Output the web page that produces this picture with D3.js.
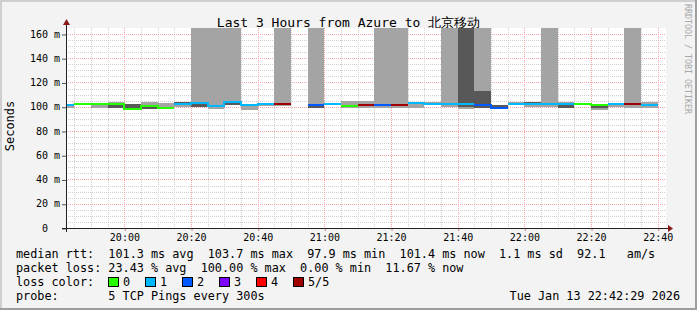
<!DOCTYPE html>
<html>
<head>
<meta charset="utf-8">
<script src="https://cdn.jsdelivr.net/npm/d3@7"></script>
<style>
body { margin: 0; background: #f3f3f3; }
text { font-family: "DejaVu Sans Mono", monospace; white-space: pre; }
</style>
</head>
<body>
<script>
// 5 minute bins (start time of each step)
const binStarts = ["19:40","19:45","19:50","19:55","20:00","20:05","20:10","20:15","20:20","20:25","20:30","20:35",
                   "20:40","20:45","20:50","20:55","21:00","21:05","21:10","21:15","21:20","21:25","21:30","21:35",
                   "21:40","21:45","21:50","21:55","22:00","22:05","22:10","22:15","22:20","22:25","22:30","22:35"];
// median rtt in ms (null = no data)
const median = [101.7,102.5,102.0,102.0,97.9,101.0,99.2,102.0,103.1,101.0,103.7,101.4,
                102.3,102.4,null,101.6,102.3,100.8,101.2,101.6,101.6,102.7,102.4,102.5,
                102.3,101.6,99.2,102.5,101.9,102.5,102.0,102.5,101.8,102.2,102.5,101.4];
// lost pings out of 5
const loss = [1,0,0,0,0,0,0,1,1,1,1,1,
              1,5,null,2,1,0,5,2,5,1,1,1,
              1,2,2,1,1,1,1,0,0,1,5,1];
// smoke: outer band (ping1..ping5), inner band (ping2..ping4); 999 = off the chart
const smokeLo = [99.0,102.0,98.7,99.2,97.6,98.1,98.8,100.0,100.0,98.3,101.4,97.6,
                 100.3,100.9,null,98.7,102.0,98.8,98.8,98.7,98.7,98.7,102.0,100.0,
                 98.4,98.7,98.7,102.0,99.8,99.6,98.7,101.4,97.3,99.5,98.7,98.7];
const smokeHi = [101.9,103.4,102.3,104.2,102.2,103.9,103.1,103.9,999,999,999,101.8,
                 102.8,999,null,999,102.6,104.7,104.7,999,999,103.9,103.9,999,
                 999,999,101.4,103.9,104.2,999,104.2,103.0,102.2,102.8,999,104.2];
const innerLo = [101.2,102.2,101.6,99.2,97.9,98.1,99.0,101.5,100.0,100.5,101.4,100.8,
                 101.8,101.8,null,98.7,102.1,100.3,100.8,101.2,101.2,102.2,102.2,101.5,
                 100.0,99.2,99.0,102.2,101.5,102.0,98.7,102.0,99.2,101.8,102.0,101.0];
const innerHi = [101.9,102.8,102.2,102.2,102.0,101.2,99.6,103.9,103.1,101.5,103.7,101.6,
                 102.5,103.0,null,101.8,102.5,101.3,101.6,102.0,102.0,103.2,102.8,103.0,
                 999,113.0,101.4,102.8,104.0,103.0,102.2,102.8,102.0,102.5,103.0,101.8];

const lossLabels = ["0", "1", "2", "3", "4", "5/5"];
const lossColors = ["#26ff00", "#00b8ff", "#0059ff", "#7e00ff", "#ff0000", "#a00000"];

const yTicks = [0, 20, 40, 60, 80, 100, 120, 140, 160];
const yTickLabels = ["0  ", "20 m", "40 m", "60 m", "80 m", "100 m", "120 m", "140 m", "160 m"];
const xTicks = ["20:00", "20:20", "20:40", "21:00", "21:20", "21:40", "22:00", "22:20", "22:40"];

const title = "Last 3 Hours from Azure to 北京移动";
const statLines = [
  "median rtt:  101.3 ms avg  103.7 ms max  97.9 ms min  101.4 ms now  1.1 ms sd  92.1   am/s",
  "packet loss: 23.43 % avg  100.00 % max  0.00 % min  11.67 % now"
];
const probeText = "probe:       5 TCP Pings every 300s";
const stampText = "Tue Jan 13 22:42:29 2026";

const W = 697, H = 310;
const parse = d3.timeParse("%H:%M");
const parseS = d3.timeParse("%H:%M:%S");

const x = d3.scaleTime()
  .domain([parseS("19:42:29"), parseS("22:42:29")])
  .range([66, 666]);
const y = d3.scaleLinear().domain([0, 164.9]).range([228, 28]).clamp(true);

const svg = d3.select("body").append("svg")
  .attr("width", W).attr("height", H);

// frame
svg.append("rect").attr("width", W).attr("height", H).attr("fill", "#f3f3f3");
svg.append("rect").attr("x", 0).attr("y", 0).attr("width", W).attr("height", 2).attr("fill", "#cfcfcf");
svg.append("rect").attr("x", 0).attr("y", 0).attr("width", 2).attr("height", H).attr("fill", "#cfcfcf");
svg.append("rect").attr("x", 0).attr("y", H - 2).attr("width", W).attr("height", 2).attr("fill", "#9e9e9e");
svg.append("rect").attr("x", W - 2).attr("y", 0).attr("width", 2).attr("height", H).attr("fill", "#9e9e9e");

svg.append("text")
  .attr("x", W / 2).attr("y", 26.5)
  .attr("text-anchor", "middle")
  .attr("font-size", 13)
  .attr("fill", "#000")
  .text(title);

svg.append("text")
  .attr("transform", "translate(685,4) rotate(90)")
  .attr("font-size", 8.3)
  .attr("fill", "#a8a8a8")
  .text("RRDTOOL / TOBI OETIKER");

svg.append("text")
  .attr("transform", "translate(14,126) rotate(-90)")
  .attr("text-anchor", "middle")
  .attr("font-size", 12)
  .attr("fill", "#000")
  .text("Seconds");

// canvas
svg.append("defs").append("clipPath").attr("id", "plot")
  .append("rect").attr("x", 66).attr("y", 28).attr("width", 600).attr("height", 200);
svg.append("rect").attr("x", 66).attr("y", 28).attr("width", 600).attr("height", 200).attr("fill", "#fff");

const grid = svg.append("g").attr("shape-rendering", "crispEdges");
const minorT = x.ticks(d3.timeMinute.every(5)).filter(d => d.getMinutes() % 20 != 0);
const majorT = x.ticks(d3.timeMinute.every(20));
grid.selectAll(".vmin").data(minorT).join("line")
  .attr("x1", d => Math.round(x(d)) + 0.5).attr("x2", d => Math.round(x(d)) + 0.5)
  .attr("y1", 28).attr("y2", 228)
  .attr("stroke", "#d0d0d0").attr("stroke-dasharray", "1,1");
grid.selectAll(".hmin").data(d3.range(5, 165, 5).filter(v => v % 20 != 0)).join("line")
  .attr("y1", d => Math.round(y(d)) + 0.5).attr("y2", d => Math.round(y(d)) + 0.5)
  .attr("x1", 66).attr("x2", 666)
  .attr("stroke", "#d0d0d0").attr("stroke-dasharray", "1,1");
grid.selectAll(".vmaj").data(majorT).join("line")
  .attr("x1", d => Math.round(x(d)) + 0.5).attr("x2", d => Math.round(x(d)) + 0.5)
  .attr("y1", 28).attr("y2", 228)
  .attr("stroke", "#f4a4a4").attr("stroke-dasharray", "1,1");
grid.selectAll(".hmaj").data(yTicks.slice(1)).join("line")
  .attr("y1", d => Math.round(y(d)) + 0.5).attr("y2", d => Math.round(y(d)) + 0.5)
  .attr("x1", 66).attr("x2", 666)
  .attr("stroke", "#f4a4a4").attr("stroke-dasharray", "1,1");

// smoke + median
const bins = binStarts.map((s, i) => {
  const t0 = parse(s);
  return { t0, t1: d3.timeMinute.offset(t0, 5), med: median[i], loss: loss[i],
           lo: smokeLo[i], hi: smokeHi[i], ilo: innerLo[i], ihi: innerHi[i] };
});

const plot = svg.append("g").attr("clip-path", "url(#plot)").attr("shape-rendering", "crispEdges");
const withData = bins.filter(d => d.lo != null);
plot.selectAll(".outer").data(withData).join("rect")
  .attr("x", d => Math.round(x(d.t0))).attr("width", d => Math.round(x(d.t1)) - Math.round(x(d.t0)))
  .attr("y", d => y(d.hi)).attr("height", d => y(d.lo) - y(d.hi))
  .attr("fill", "#a4a4a4");
plot.selectAll(".inner").data(withData).join("rect")
  .attr("x", d => Math.round(x(d.t0))).attr("width", d => Math.round(x(d.t1)) - Math.round(x(d.t0)))
  .attr("y", d => y(d.ihi)).attr("height", d => y(d.ilo) - y(d.ihi))
  .attr("fill", "#585858");

const line = d3.line().defined(d => d.v != null).x(d => Math.round(x(d.t))).y(d => y(d.v));
lossColors.forEach((c, k) => {
  const pts = [];
  bins.forEach(b => {
    if (b.med != null && b.loss === k) {
      pts.push({ t: b.t0, v: b.med }, { t: b.t1, v: b.med });
    } else {
      pts.push({ t: b.t0, v: null });
    }
  });
  plot.append("path").datum(pts)
    .attr("d", line)
    .attr("fill", "none")
    .attr("stroke", c)
    .attr("stroke-width", 2);
});

// axes
const xAxis = d3.axisBottom(x)
  .tickValues(xTicks.map(parse))
  .tickFormat(d3.timeFormat("%H:%M"))
  .tickSize(3).tickPadding(3);
const gx = svg.append("g").attr("transform", "translate(0,228)").call(xAxis);
gx.select(".domain").remove();
gx.selectAll("line").attr("stroke", "#d08080").attr("transform", "translate(0.5,0)");
gx.selectAll("text").attr("font-size", 10).attr("font-family", "DejaVu Sans Mono").attr("fill", "#000");

// trailing blanks in a label keep it in the same column as the others
const yAxis = d3.axisLeft(y)
  .tickValues(yTicks)
  .tickFormat((d, i) => yTickLabels[i].trimEnd())
  .tickSize(4).tickPadding(2);
const gy = svg.append("g").attr("transform", "translate(66,0)").call(yAxis);
gy.select(".domain").remove();
gy.selectAll("line").attr("stroke", "#555").attr("transform", "translate(0,0.5)");
gy.selectAll(".tick text")
  .attr("font-size", 10).attr("font-family", "DejaVu Sans Mono").attr("fill", "#000")
  .attr("x", function(d) {
    const lab = yTickLabels[yTicks.indexOf(d)];
    return -6 - 6.02 * (lab.length - lab.trimEnd().length);
  });

const axes = svg.append("g").attr("shape-rendering", "crispEdges");
axes.append("line").attr("x1", 62).attr("x2", 669).attr("y1", 228.5).attr("y2", 228.5).attr("stroke", "#222");
axes.append("line").attr("x1", 66.5).attr("x2", 66.5).attr("y1", 232).attr("y2", 24).attr("stroke", "#222");
svg.append("path").attr("d", "M668,225 L673,228.5 L668,232 Z").attr("fill", "#8b1a1a");
svg.append("path").attr("d", "M63,25 L66.5,19 L70,25 Z").attr("fill", "#8b1a1a");

// legend
const leg = svg.append("g").attr("font-size", 11.8).attr("fill", "#000");
statLines.forEach((s, i) => {
  leg.append("text").attr("x", 16).attr("y", 258 + i * 14).attr("xml:space", "preserve").text(s);
});
leg.append("text").attr("x", 16).attr("y", 286).text("loss color:");
lossColors.forEach((c, i) => {
  const bx = 108 + i * 37;
  leg.append("rect").attr("x", bx + 0.5).attr("y", 277.5).attr("width", 10).attr("height", 9)
    .attr("fill", c).attr("stroke", "#000").attr("stroke-width", 1);
  leg.append("text").attr("x", bx + 15).attr("y", 286).text(lossLabels[i]);
});
leg.append("text").attr("x", 16).attr("y", 300).attr("xml:space", "preserve").text(probeText);
leg.append("text").attr("x", 680).attr("y", 300).attr("text-anchor", "end").text(stampText);
</script>
</body>
</html>
